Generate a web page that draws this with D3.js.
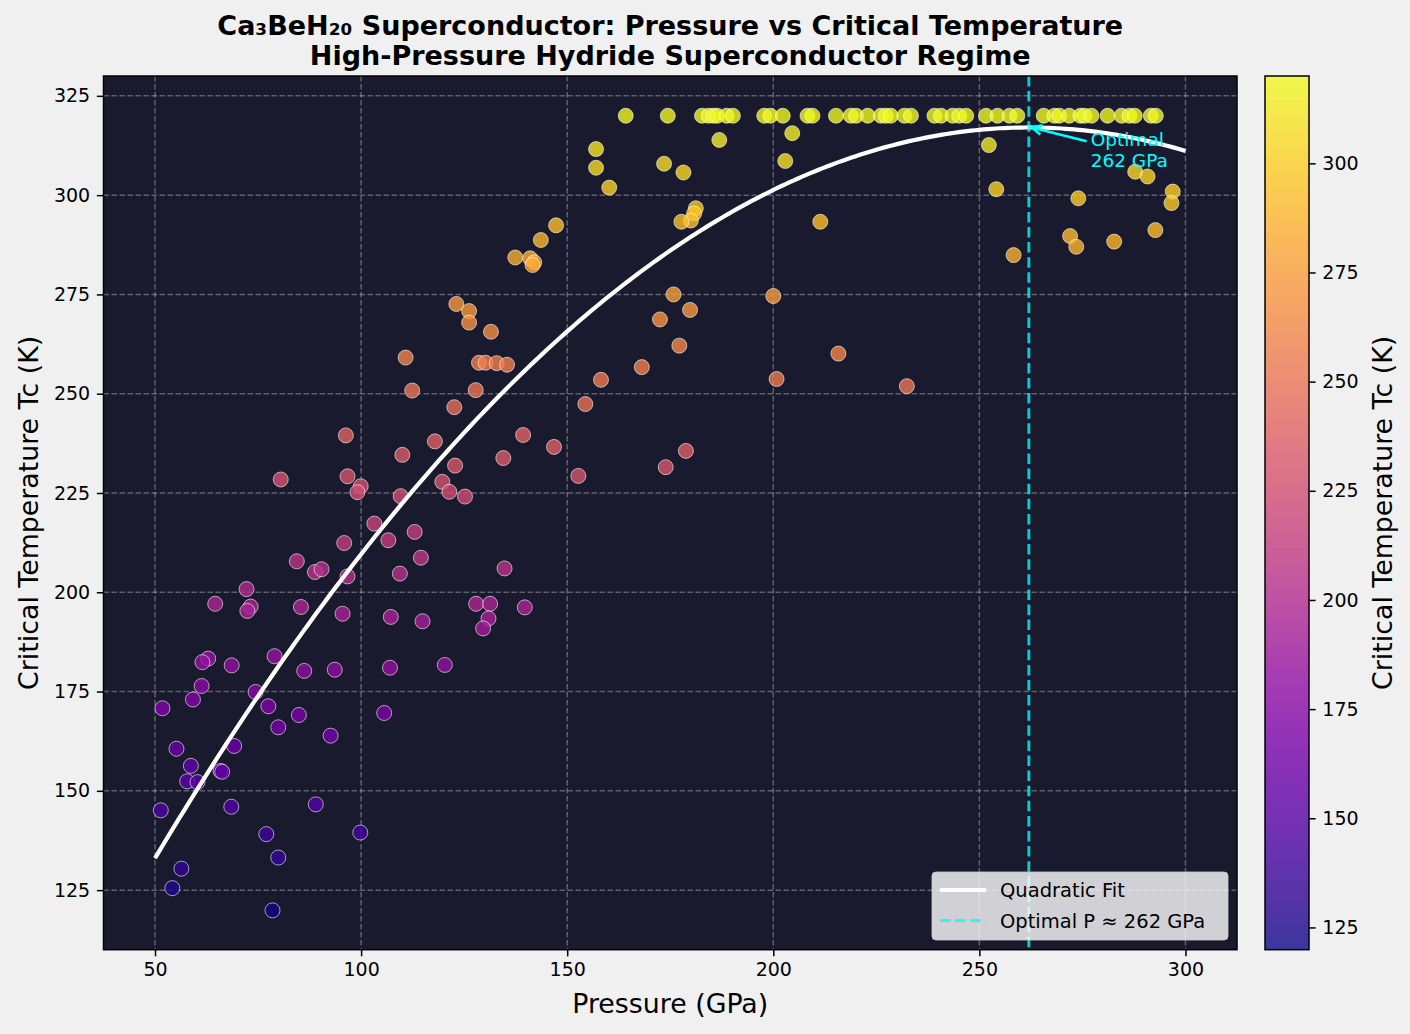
<!DOCTYPE html>
<html>
<head>
<meta charset="utf-8">
<script src="https://cdn.jsdelivr.net/npm/d3@7"></script>
<style>
  body { margin: 0; background: #f0f0f0; }
  text { font-family: "DejaVu Sans", sans-serif; }
</style>
</head>
<body>
<svg id="chart" width="1410" height="1034"></svg>
<script>
// ---- data ----
// [pressure GPa, Tc K]
const measured = [
  [96.3,239.5],[110.0,234.6],[80.5,228.4],[96.7,229.2],[99.9,226.7],[99.1,225.2],[109.6,224.2],
  [103.2,217.3],[106.6,213.1],[95.9,212.4],[84.4,207.8],[88.8,205.1],[90.4,205.8],[96.7,204.0],
  [109.4,204.7],[72.2,200.8],[64.6,197.1],[73.2,196.4],[72.4,195.3],[85.4,196.3],[95.5,194.6],
  [107.2,193.8],[62.9,183.3],[61.5,182.4],[68.6,181.6],[79.0,183.9],[86.2,180.2],[93.6,180.5],
  [107.0,181.0],[61.3,176.4],[74.4,174.9],[59.2,173.0],[51.8,170.8],[77.5,171.3],[84.9,169.1],
  [105.6,169.6],[79.9,166.0],[92.6,163.9],[69.2,161.3],[55.2,160.6],[58.7,156.3],[65.9,155.0],
  [66.3,154.8],[57.8,152.4],[60.3,152.2],[51.4,145.1],[68.5,146.0],[89.0,146.6],[77.0,139.1],
  [99.8,139.5],[79.9,133.2],[56.4,130.4],[54.2,125.5],[78.5,119.9],
  [181.2,296.7],[180.8,295.4],[180.0,293.6],[177.7,293.3],[147.3,292.4],[143.6,288.7],[137.4,284.3],
  [141.0,284.1],[142.0,283.1],[141.6,282.4],[175.8,275.0],[123.1,272.6],[126.2,270.8],[126.2,267.9],
  [179.8,271.1],[172.5,268.7],[131.5,265.6],[177.2,262.1],[110.8,259.1],[128.6,257.8],[130.2,257.8],
  [132.9,257.7],[135.4,257.3],[168.1,256.7],[158.2,253.5],[112.4,250.8],[127.8,250.9],[154.4,247.4],
  [122.6,246.6],[117.9,238.0],[139.3,239.6],[146.8,236.6],[178.8,235.6],[134.5,233.8],[122.8,231.9],
  [173.9,231.5],[152.7,229.3],[119.7,227.8],[121.4,225.3],[125.2,224.1],
  [113.0,215.2],[114.5,208.7],[134.8,206.0],[127.9,197.1],[131.3,197.1],[130.9,193.4],[129.6,190.9],
  [139.7,196.2],[114.9,192.7],[120.3,181.7],
  [186.9,313.9],[157.0,311.6],[157.0,306.9],[173.5,307.9],[178.2,305.7],[160.2,301.9],[202.9,308.6],
  [204.6,315.6],[252.3,312.6],[254.1,301.5],[211.4,293.3],
  [200.0,274.6],[215.8,260.1],[200.8,253.7],[232.4,251.9],
  [287.8,305.9],[290.8,304.7],[296.9,300.9],[296.6,298.0],[274.0,299.2],[292.7,291.2],[272.0,289.7],
  [282.7,288.3],[258.3,284.9],[273.5,287.0]
]
// pressures of the samples that sit on the 320 K cap
const saturatedP = [
  164.2,174.4,182.7,184.3,185.5,186.4,188.7,190.2,197.8,199.3,202.3,
  208.3,209.5,215.2,218.8,220.1,222.9,226.1,227.3,228.5,231.8,233.4,239.1,240.7,243.5,245.1,246.8,251.6,254.4,
  257.3,259.2,265.6,268.2,269.4,271.8,274.5,275.5,277.2,281.1,284.5,286.4,287.7,291.6,292.8
]
const tcCap = 320

// quadratic fit Tc = c0 + c1 P + c2 P^2
const fitCoef = [36.0, 2.1453, -0.004094]
const fitRange = [50, 300]
const optimalP = 262

const xTicks = [50, 100, 150, 200, 250, 300]
const yTicks = [125, 150, 175, 200, 225, 250, 275, 300, 325]
const cbTicks = [125, 150, 175, 200, 225, 250, 275, 300]

// ---- layout ----
const svg = d3.select("#chart")
const plot = {left: 103.5, right: 1237, top: 76, bottom: 949.7}
const cb = {left: 1265, right: 1309}

const x = d3.scaleLinear().domain([37.5, 312.5]).range([plot.left, plot.right])
const y = d3.scaleLinear().domain([110, 330]).range([plot.bottom, plot.top])

const points = measured.map(d => ({p: d[0], tc: d[1]}))
  .concat(saturatedP.map(p => ({p: p, tc: tcCap})))
const tcExtent = d3.extent(points, d => d.tc)
const color = d3.scaleSequential(d3.interpolatePlasma).domain(tcExtent)

function fit(p) { return fitCoef[0] + fitCoef[1] * p + fitCoef[2] * p * p }

svg.append("rect").attr("width", 1410).attr("height", 1034).attr("fill", "#f0f0f0")
svg.append("rect")
  .attr("x", plot.left).attr("y", plot.top)
  .attr("width", plot.right - plot.left).attr("height", plot.bottom - plot.top)
  .attr("fill", "#1a1a2e")

// grid
const grid = svg.append("g")
  .attr("stroke", "#ffffff").attr("stroke-opacity", 0.3)
  .attr("stroke-width", 1.5).attr("stroke-dasharray", "5.6,2.4")
grid.selectAll(".gx").data(xTicks).enter().append("line")
  .attr("x1", d => x(d)).attr("x2", d => x(d))
  .attr("y1", plot.top).attr("y2", plot.bottom)
grid.selectAll(".gy").data(yTicks).enter().append("line")
  .attr("y1", d => y(d)).attr("y2", d => y(d))
  .attr("x1", plot.left).attr("x2", plot.right)

// scatter
svg.append("g").selectAll("circle")
  .data(points)
  .enter()
  .append("circle")
    .attr("cx", d => x(d.p))
    .attr("cy", d => y(d.tc))
    .attr("r", 7.5)
    .attr("fill", d => color(d.tc))
    .attr("fill-opacity", 0.8)
    .attr("stroke", "#ffffff")
    .attr("stroke-opacity", 0.65)
    .attr("stroke-width", 0.9)

// fit curve
const fitP = d3.range(fitRange[0], fitRange[1] + 0.01, 1)
const fitLine = d3.line().x(p => x(p)).y(p => y(fit(p)))
svg.append("path")
  .attr("d", fitLine(fitP))
  .attr("fill", "none")
  .attr("stroke", "#ffffff")
  .attr("stroke-width", 4.2)

// optimal pressure line
svg.append("line")
  .attr("x1", x(optimalP)).attr("x2", x(optimalP))
  .attr("y1", plot.top).attr("y2", plot.bottom)
  .attr("stroke", "cyan").attr("stroke-opacity", 0.8)
  .attr("stroke-width", 2.85).attr("stroke-dasharray", "10.5,4.6")

// annotation
const peakTc = fit(optimalP)
const tx = x(optimalP + 15), ty = y(peakTc - 10)
const ann = svg.append("text")
  .attr("x", tx).attr("y", ty)
  .attr("fill", "cyan").style("font-size", "18.5px")
ann.append("tspan").attr("x", tx).attr("dy", -21).text("Optimal")
ann.append("tspan").attr("x", tx).attr("dy", 21).text("262 GPa")
const ax0 = tx - 4, ay0 = ty - 26
const ax1 = x(optimalP) + 3, ay1 = y(peakTc)
svg.append("line")
  .attr("x1", ax0).attr("y1", ay0).attr("x2", ax1).attr("y2", ay1)
  .attr("stroke", "cyan").attr("stroke-width", 2.6)
const ang = Math.atan2(ay0 - ay1, ax0 - ax1)
const head = d3.path()
head.moveTo(ax1 + 11 * Math.cos(ang + 0.45), ay1 + 11 * Math.sin(ang + 0.45))
head.lineTo(ax1, ay1)
head.lineTo(ax1 + 11 * Math.cos(ang - 0.45), ay1 + 11 * Math.sin(ang - 0.45))
svg.append("path").attr("d", head.toString())
  .attr("fill", "none").attr("stroke", "cyan").attr("stroke-width", 2.6)

// frame
svg.append("rect")
  .attr("x", plot.left).attr("y", plot.top)
  .attr("width", plot.right - plot.left).attr("height", plot.bottom - plot.top)
  .attr("fill", "none").attr("stroke", "#000").attr("stroke-width", 1.5)

// axes
const gx = svg.append("g")
  .attr("transform", "translate(0," + plot.bottom + ")")
  .call(d3.axisBottom(x).tickValues(xTicks).tickSize(6.65).tickPadding(6.65))
const gy = svg.append("g")
  .attr("transform", "translate(" + plot.left + ",0)")
  .call(d3.axisLeft(y).tickValues(yTicks).tickSize(6.65).tickPadding(6.65))
;[gx, gy].forEach(g => {
  g.select(".domain").remove()
  g.selectAll("line").attr("stroke", "#000").attr("stroke-width", 1.5)
  g.selectAll("text").attr("fill", "#000").style("font-size", "19px")
    .style("font-family", "DejaVu Sans, sans-serif")
})

svg.append("text")
  .attr("x", (plot.left + plot.right) / 2).attr("y", 1013)
  .attr("text-anchor", "middle").style("font-size", "26.8px")
  .text("Pressure (GPa)")
svg.append("text")
  .attr("transform", "translate(38," + (plot.top + plot.bottom) / 2 + ") rotate(-90)")
  .attr("text-anchor", "middle").style("font-size", "26.8px")
  .text("Critical Temperature Tc (K)")

// title
svg.append("text")
  .attr("x", (plot.left + plot.right) / 2).attr("y", 34.5)
  .attr("text-anchor", "middle").style("font-size", "27px").style("font-weight", "bold")
  .text("Ca₃BeH₂₀ Superconductor: Pressure vs Critical Temperature")
svg.append("text")
  .attr("x", (plot.left + plot.right) / 2).attr("y", 65)
  .attr("text-anchor", "middle").style("font-size", "27px").style("font-weight", "bold")
  .text("High-Pressure Hydride Superconductor Regime")

// legend
const lg = svg.append("g").attr("transform", "translate(932,872)")
lg.append("rect")
  .attr("width", 296).attr("height", 68).attr("rx", 4)
  .attr("fill", "#ffffff").attr("fill-opacity", 0.8)
  .attr("stroke", "#cccccc").attr("stroke-opacity", 0.8)
lg.append("line").attr("x1", 8).attr("x2", 54).attr("y1", 18).attr("y2", 18)
  .attr("stroke", "#ffffff").attr("stroke-width", 4.2)
lg.append("line").attr("x1", 8).attr("x2", 54).attr("y1", 48.5).attr("y2", 48.5)
  .attr("stroke", "cyan").attr("stroke-opacity", 0.8)
  .attr("stroke-width", 2.85).attr("stroke-dasharray", "10.5,4.6")
lg.append("text").attr("x", 68).attr("y", 25).style("font-size", "19.5px").text("Quadratic Fit")
lg.append("text").attr("x", 68).attr("y", 55.5).style("font-size", "19.5px").text("Optimal P ≈ 262 GPa")

// colorbar
const cScale = d3.scaleLinear().domain(tcExtent).range([plot.bottom, plot.top])
const grad = svg.append("defs").append("linearGradient")
  .attr("id", "cbgrad").attr("x1", 0).attr("x2", 0).attr("y1", 1).attr("y2", 0)
grad.selectAll("stop").data(d3.range(0, 1.0001, 0.05)).enter().append("stop")
  .attr("offset", d => d)
  .attr("stop-color", d => d3.interpolatePlasma(d))
  .attr("stop-opacity", 0.8)
svg.append("rect")
  .attr("x", cb.left).attr("y", plot.top)
  .attr("width", cb.right - cb.left).attr("height", plot.bottom - plot.top)
  .attr("fill", "url(#cbgrad)").attr("stroke", "#000").attr("stroke-width", 1.5)
const gc = svg.append("g")
  .attr("transform", "translate(" + cb.right + ",0)")
  .call(d3.axisRight(cScale).tickValues(cbTicks).tickSize(6.65).tickPadding(6.65))
gc.select(".domain").remove()
gc.selectAll("line").attr("stroke", "#000").attr("stroke-width", 1.5)
gc.selectAll("text").attr("fill", "#000").style("font-size", "19px")
  .style("font-family", "DejaVu Sans, sans-serif")
svg.append("text")
  .attr("transform", "translate(1392," + (plot.top + plot.bottom) / 2 + ") rotate(-90)")
  .attr("text-anchor", "middle").style("font-size", "26.8px")
  .text("Critical Temperature Tc (K)")
</script>
</body>
</html>
